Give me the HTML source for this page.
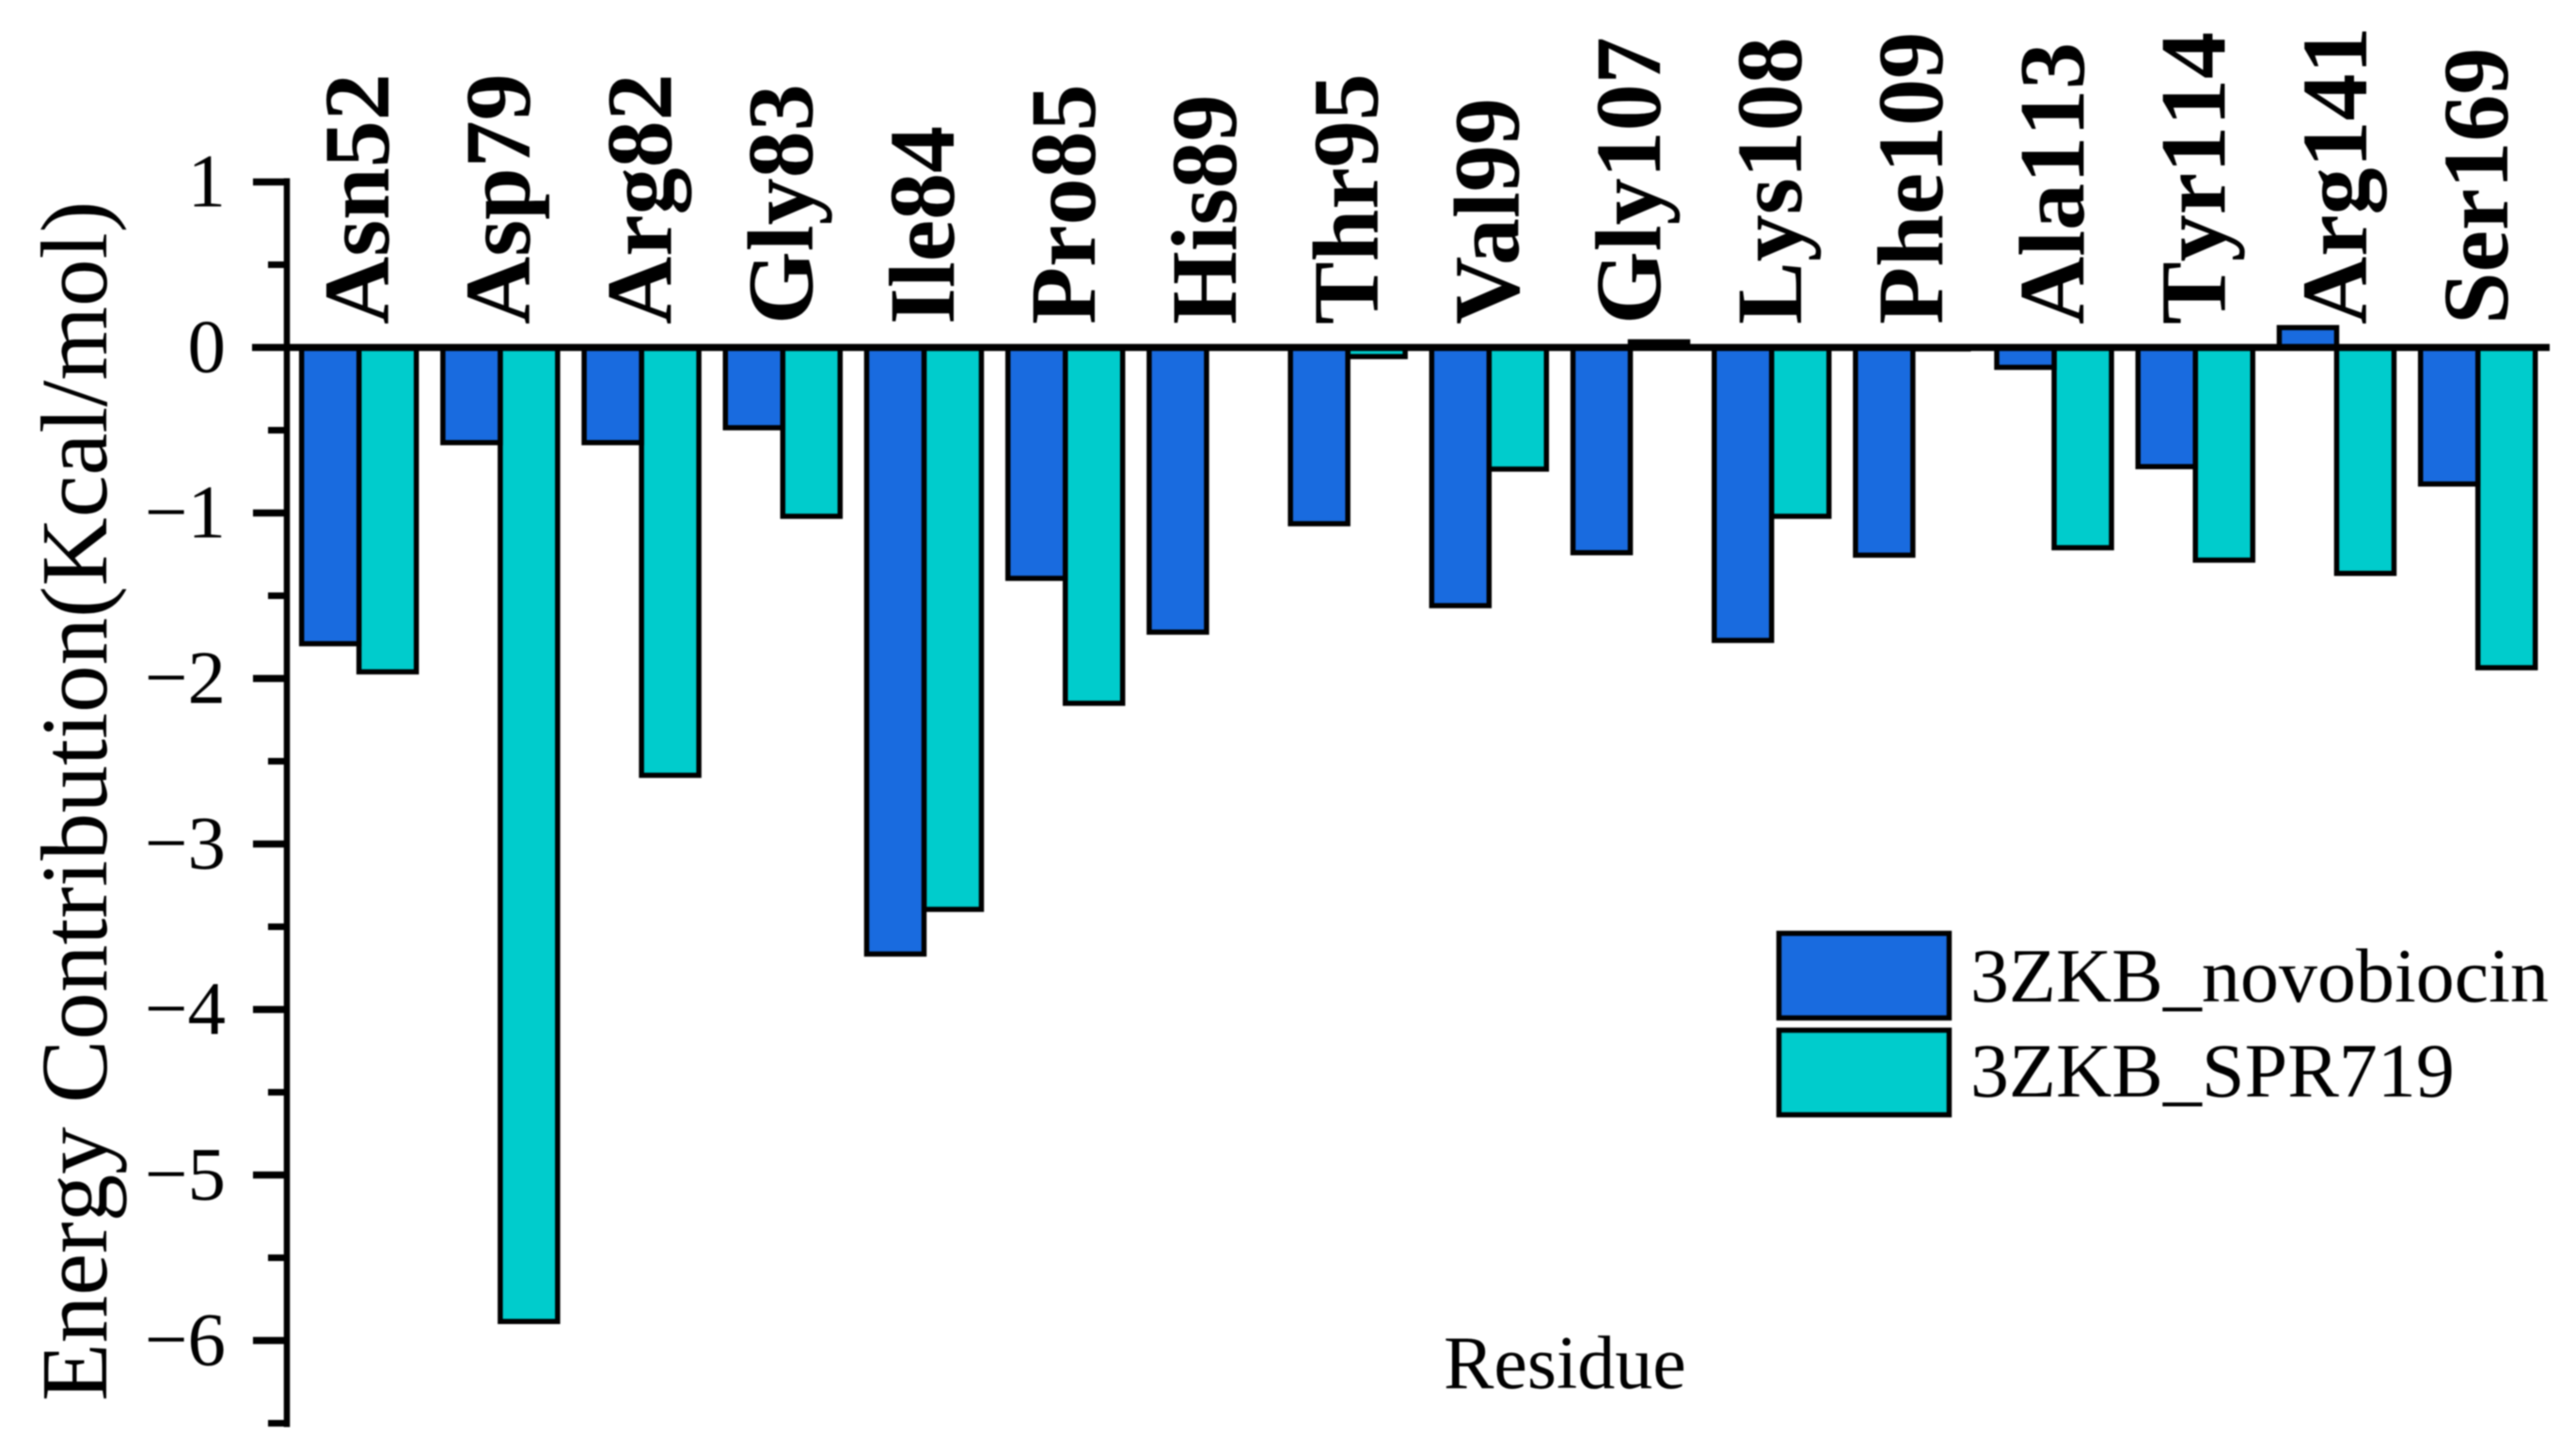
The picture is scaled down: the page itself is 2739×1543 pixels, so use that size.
<!DOCTYPE html>
<html lang="en">
<head>
<meta charset="utf-8">
<title>Energy Contribution per Residue</title>
<style>
  html, body { margin: 0; padding: 0; background: #ffffff; }
  body { width: 2739px; height: 1543px; overflow: hidden; }
  svg { display: block; filter: blur(0.7px); }
  text { font-family: "Liberation Serif", "Times New Roman", serif; fill: #000000; font-kerning: none; }
  .tick-text { font-size: 81px; text-anchor: end; }
  .residue-text { font-size: 100px; font-weight: bold; }
  .legend-text { font-size: 82px; }
  .title-text { font-size: 101px; }
  .x-title-text { font-size: 80px; }
</style>
</head>
<body>
<svg id="chart" xmlns="http://www.w3.org/2000/svg" width="2739" height="1543" viewBox="0 0 2739 1543">
  <rect x="0" y="0" width="2739" height="1543" fill="#ffffff"/>
  <g id="bars"></g>
  <g id="axis"></g>
  <g id="labels"></g>
  <text class="title-text" transform="translate(113 1490) rotate(-90)">Energy Contribution(Kcal/mol)</text>
  <text class="x-title-text" x="1535" y="1476">Residue</text>
  <g>
    <rect x="1891.5" y="992.5" width="181" height="90" fill="#196BDF" stroke="#000" stroke-width="5.5"/>
    <text class="legend-text" x="2095" y="1065">3ZKB_novobiocin</text>
    <rect x="1891.5" y="1095.5" width="181" height="90" fill="#00CCCC" stroke="#000" stroke-width="5.5"/>
    <text class="legend-text" x="2095" y="1166">3ZKB_SPR719</text>
  </g>
</svg>
<script>
const residues = ["Asn52","Asp79","Arg82","Gly83","Ile84","Pro85","His89","Thr95","Val99","Gly107","Lys108","Phe109","Ala113","Tyr114","Arg141","Ser169"];
const novobiocin = [-1.79,-0.575,-0.575,-0.485,-3.665,-1.395,-1.72,-1.065,-1.56,-1.24,-1.77,-1.255,-0.12,-0.72,0.12,-0.825];
const spr719 = [-1.96,-5.885,-2.585,-1.02,-3.395,-2.15,0,-0.055,-0.735,0.034,-1.02,-0.02,-1.21,-1.285,-1.365,-1.935];
const majorTicks = [1,0,-1,-2,-3,-4,-5,-6];
const minorTicks = [0.5,-0.5,-1.5,-2.5,-3.5,-4.5,-5.5,-6.5];

const SVG_NS = "http://www.w3.org/2000/svg";
const yZero = 369.5;
const yUnit = 176;
const firstGroupMid = 381.7;
const groupPitch = 150.2;
const barWidth = 61;
const axisX = 305;

function yScale(v) { return yZero - yUnit * v; }
function xMid(i) { return firstGroupMid + groupPitch * i; }
function tickLabel(v) { return v < 0 ? "\u2212" + Math.abs(v) : String(v); }

const barsGroup = document.getElementById("bars");
const axisGroup = document.getElementById("axis");
const labelsGroup = document.getElementById("labels");

function drawBar(i, value, left, color, seriesName) {
  const r = document.createElementNS(SVG_NS, "rect");
  const y0 = yScale(0);
  const y1 = yScale(value);
  r.setAttribute("x", left);
  r.setAttribute("y", Math.min(y0, y1));
  r.setAttribute("width", barWidth);
  r.setAttribute("height", Math.abs(y1 - y0));
  r.setAttribute("fill", color);
  r.setAttribute("stroke", "#000000");
  r.setAttribute("stroke-width", Math.abs(value) < 0.03 ? 1.5 : 5.5);
  
  
  barsGroup.appendChild(r);
}

function drawLine(x1, y1, x2, y2, width, name) {
  const l = document.createElementNS(SVG_NS, "line");
  l.setAttribute("x1", x1);
  l.setAttribute("y1", y1);
  l.setAttribute("x2", x2);
  l.setAttribute("y2", y2);
  l.setAttribute("stroke", "#000000");
  l.setAttribute("stroke-width", width);
  
  
  axisGroup.appendChild(l);
}

residues.forEach(function (name, i) {
  const mid = xMid(i);
  if (spr719[i] !== 0) drawBar(i, spr719[i], mid, "#00CCCC", "spr719");
  if (novobiocin[i] !== 0) drawBar(i, novobiocin[i], mid - barWidth, "#196BDF", "novobiocin");

  const t = document.createElementNS(SVG_NS, "text");
  t.setAttribute("class", "residue-text");
  t.setAttribute("transform", "translate(" + (mid + 31.3) + " 345) rotate(-90)");
  
  
  if (name.indexOf("Val") === 0) t.style.fontKerning = "normal";
  t.textContent = name;
  labelsGroup.appendChild(t);
});

drawLine(axisX, yScale(1) - 4, axisX, yScale(-6.5) + 4, 6.5, "y-axis-line");
drawLine(268, yScale(0), 2711, yScale(0), 7.5, "zero-line");

majorTicks.forEach(function (v) {
  if (v !== 0) drawLine(269, yScale(v), axisX, yScale(v), 7.5, "major-tick");
  const t = document.createElementNS(SVG_NS, "text");
  t.setAttribute("class", "tick-text");
  t.setAttribute("x", 240);
  t.setAttribute("y", yScale(v) + 26);
  
  
  t.textContent = tickLabel(v);
  axisGroup.appendChild(t);
});

minorTicks.forEach(function (v) {
  drawLine(285, yScale(v), axisX, yScale(v), 7, "minor-tick");
});
</script>
</body>
</html>
